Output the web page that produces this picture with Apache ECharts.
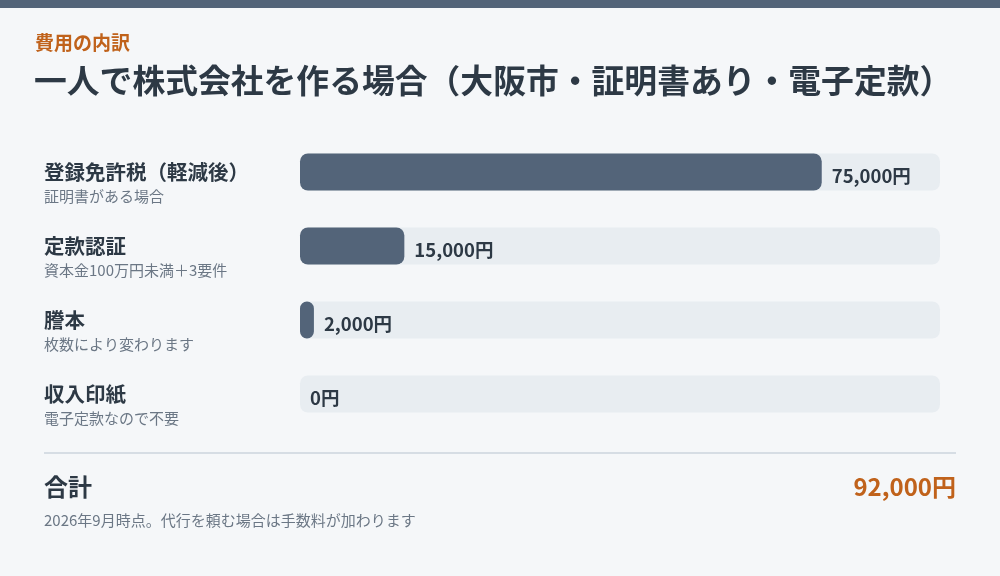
<!DOCTYPE html>
<html>
<head>
<meta charset="utf-8">
<script src="https://cdn.jsdelivr.net/npm/echarts@6/dist/echarts.min.js"></script>
<style>
html,body{margin:0;padding:0;background:#f5f7f9;}
#chart{width:1000px;height:576px;}
</style>
</head>
<body>
<div id="chart"></div>
<script>
const eyebrow = '費用の内訳';
const titleText = '一人で株式会社を作る場合（大阪市・証明書あり・電子定款）';
const categories = ['登録免許税（軽減後）', '定款認証', '謄本', '収入印紙'];
const subLabels = ['証明書がある場合', '資本金100万円未満＋3要件', '枚数により変わります', '電子定款なので不要'];
const values = [75000, 15000, 2000, 0];
const totalLabel = '合計';
const footnote = '2026年9月時点。代行を頼む場合は手数料が加わります';

const FONT = '"Noto Sans CJK JP", "Noto Sans", sans-serif';
const DARK = '#2d3945';
const GRAY = '#6b7785';
const ORANGE = '#c0621b';
const SLATE = '#536479';

const total = values.reduce((a, b) => a + b, 0);
const fmt = v => v.toLocaleString('en-US') + '円';

const chart = echarts.init(document.getElementById('chart'), null, {renderer: 'canvas'});
chart.setOption({
  backgroundColor: '#f5f7f9',
  animation: false,
  textStyle: {fontFamily: FONT},
  grid: {left: 300, width: 640, top: 135, height: 296, containLabel: false},
  xAxis: {type: 'value', min: 0, max: total, show: false},
  yAxis: {
    type: 'category', inverse: true, data: categories,
    axisLine: {show: false}, axisTick: {show: false}, splitLine: {show: false},
    axisLabel: {
      align: 'left', margin: 256, padding: [23, 0, 0, 0],
      formatter: (name, i) => '{b|' + name + '}\n{s|' + subLabels[i] + '}',
      rich: {
        b: {fontSize: 20.5, fontWeight: 'bold', color: DARK, lineHeight: 26, fontFamily: FONT},
        s: {fontSize: 15, color: GRAY, lineHeight: 22, fontFamily: FONT}
      }
    }
  },
  series: [{
    type: 'bar', data: values, barWidth: 37,
    showBackground: true,
    backgroundStyle: {color: '#e8edf1', borderRadius: 8},
    itemStyle: {color: SLATE, borderRadius: 8},
    label: {
      show: true, position: 'right', distance: 10, offset: [0, 4],
      formatter: p => fmt(p.value),
      fontSize: 18.5, fontWeight: 'bold', color: DARK, fontFamily: FONT
    }
  }],
  graphic: [
    {type: 'rect', shape: {x: 0, y: 0, width: 1000, height: 8}, style: {fill: SLATE}},
    {type: 'text', x: 35, y: 43, style: {text: eyebrow, fontSize: 19, fontWeight: 'bold', fill: ORANGE, fontFamily: FONT, align: 'left', verticalAlign: 'middle'}},
    {type: 'text', x: 34, y: 81, style: {text: titleText, fontSize: 32.8, fontWeight: 'bold', fill: DARK, fontFamily: FONT, align: 'left', verticalAlign: 'middle'}},
    {type: 'line', shape: {x1: 44, y1: 453, x2: 956, y2: 453}, style: {stroke: '#d6dde4', lineWidth: 2}},
    {type: 'text', x: 44, y: 487, style: {text: totalLabel, fontSize: 24, fontWeight: 'bold', fill: DARK, fontFamily: FONT, align: 'left', verticalAlign: 'middle'}},
    {type: 'text', x: 956, y: 487, style: {text: fmt(total), fontSize: 24, fontWeight: 'bold', fill: ORANGE, fontFamily: FONT, align: 'right', verticalAlign: 'middle'}},
    {type: 'text', x: 44, y: 520, style: {text: footnote, fontSize: 15, fill: GRAY, fontFamily: FONT, align: 'left', verticalAlign: 'middle'}}
  ]
});
</script>
</body>
</html>
